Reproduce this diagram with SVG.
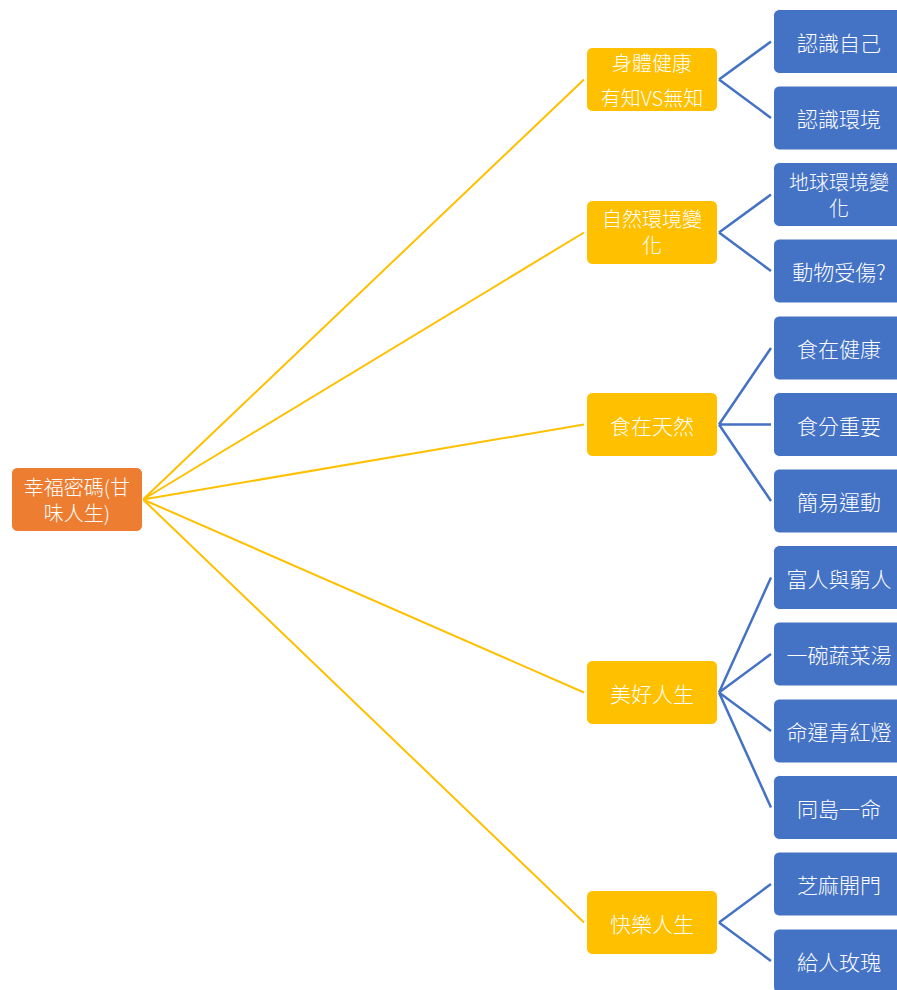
<svg xmlns="http://www.w3.org/2000/svg" width="897" height="990" viewBox="0 0 897 990">
<style>
.t{font-family:"Microsoft JhengHei","Noto Sans CJK TC","Noto Sans",sans-serif;font-size:21px;fill:#fff;text-anchor:middle;dominant-baseline:central;font-weight:300}
.w{font-size:20px}
.r{fill:#ED7D31;stroke:#fff;stroke-width:1}
.y{fill:#FFC000;stroke:#fff;stroke-width:1}
.b{fill:#4472C4;stroke:#fff;stroke-width:1}
.cy{stroke:#FFC000;stroke-width:2;fill:none}
.cb{stroke:#4472C4;stroke-width:2.5;fill:none}
</style>
<rect width="897" height="990" fill="#fff"/>
<g id="connectors">
<path class="cy" d="M143,499.5 L584,79.5 M143,499.5 L584,232.5 M143,499.5 L584,424.5 M143,499.5 L584,692.5 M143,499.5 L584,922.5"/>
<path class="cb" d="M719,79.5 L771,41.5 M719,79.5 L771,118"/>
<path class="cb" d="M719,232.5 L771,194.5 M719,232.5 L771,271"/>
<path class="cb" d="M719,424.5 L771,348 M719,424.5 L771,424.5 M719,424.5 L771,501"/>
<path class="cb" d="M719,692.5 L771,577.5 M719,692.5 L771,654 M719,692.5 L771,731 M719,692.5 L771,807.5"/>
<path class="cb" d="M719,922.5 L771,884 M719,922.5 L771,961"/>
</g>
<g id="root"><rect class="r" x="11.5" y="467.5" width="131" height="64" rx="6"/><text class="t w" x="77" y="486.5">幸福密碼(甘</text><text class="t w" x="77" y="512.5">味人生)</text></g>
<g id="n1"><rect class="y" x="586.5" y="47.5" width="131" height="64" rx="6"/><text class="t w" x="652" y="62">身體健康</text><text class="t w" x="652" y="97">有知VS無知</text></g>
<g id="n2"><rect class="y" x="586.5" y="200.5" width="131" height="64" rx="6"/><text class="t w" x="652" y="218.5">自然環境變</text><text class="t w" x="652" y="244.5">化</text></g>
<g id="n3"><rect class="y" x="586.5" y="392.5" width="131" height="64" rx="6"/><text class="t" x="652" y="424.5">食在天然</text></g>
<g id="n4"><rect class="y" x="586.5" y="660.5" width="131" height="64" rx="6"/><text class="t" x="652" y="692.5">美好人生</text></g>
<g id="n5"><rect class="y" x="586.5" y="890.5" width="131" height="64" rx="6"/><text class="t" x="652" y="922.5">快樂人生</text></g>
<g id="b1"><rect class="b" x="773.5" y="9.5" width="131" height="64" rx="6"/><text class="t" x="839" y="41.5">認識自己</text></g>
<g id="b2"><rect class="b" x="773.5" y="86" width="131" height="64" rx="6"/><text class="t" x="839" y="118">認識環境</text></g>
<g id="b3"><rect class="b" x="773.5" y="162.5" width="131" height="64" rx="6"/><text class="t w" x="839" y="181.5">地球環境變</text><text class="t w" x="839" y="207.5">化</text></g>
<g id="b4"><rect class="b" x="773.5" y="239" width="131" height="64" rx="6"/><text class="t" x="839" y="271">動物受傷?</text></g>
<g id="b5"><rect class="b" x="773.5" y="316" width="131" height="64" rx="6"/><text class="t" x="839" y="348">食在健康</text></g>
<g id="b6"><rect class="b" x="773.5" y="392.5" width="131" height="64" rx="6"/><text class="t" x="839" y="424.5">食分重要</text></g>
<g id="b7"><rect class="b" x="773.5" y="469" width="131" height="64" rx="6"/><text class="t" x="839" y="501">簡易運動</text></g>
<g id="b8"><rect class="b" x="773.5" y="545.5" width="131" height="64" rx="6"/><text class="t" x="839" y="577.5">富人與窮人</text></g>
<g id="b9"><rect class="b" x="773.5" y="622" width="131" height="64" rx="6"/><text class="t" x="839" y="654">一碗蔬菜湯</text></g>
<g id="b10"><rect class="b" x="773.5" y="699" width="131" height="64" rx="6"/><text class="t" x="839" y="731">命運青紅燈</text></g>
<g id="b11"><rect class="b" x="773.5" y="775.5" width="131" height="64" rx="6"/><text class="t" x="839" y="807.5">同島一命</text></g>
<g id="b12"><rect class="b" x="773.5" y="852" width="131" height="64" rx="6"/><text class="t" x="839" y="884">芝麻開門</text></g>
<g id="b13"><rect class="b" x="773.5" y="929" width="131" height="64" rx="6"/><text class="t" x="839" y="961">給人玫瑰</text></g>
</svg>
